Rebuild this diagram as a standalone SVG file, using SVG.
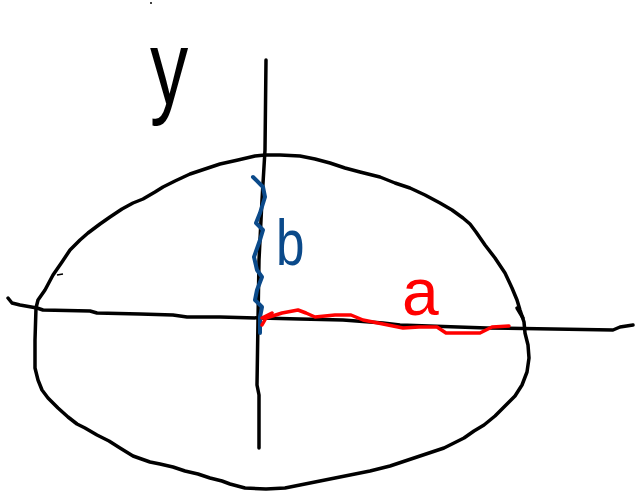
<svg xmlns="http://www.w3.org/2000/svg" width="635" height="492" viewBox="0 0 635 492">
<style>
.k{fill:none;stroke:#000;stroke-width:3.5;stroke-linecap:round;stroke-linejoin:round}
.bl{fill:none;stroke:#0b4a8a;stroke-width:4;stroke-linecap:round;stroke-linejoin:round}
.rd{fill:none;stroke:#ff0000;stroke-width:3.5;stroke-linecap:round;stroke-linejoin:round}
.t{font-family:"Liberation Sans",Arial,sans-serif}
</style>
<rect width="635" height="492" fill="#fff"/>
<g id="ellipse">
<path class="k" d="M36,308 L38,300 L45,290 L53,275 L62,262 L70,250 L80,240 L88,233 L100,224 L110,217 L122,209 L133,203 L143,199 L155,192 L163,187 L175,181 L190,174 L205,169 L220,164 L238,160 L255,156 L265,155 L280,155 L300,156 L315,159 L330,163 L345,168 L360,172 L380,177 L395,183 L410,188 L425,195 L440,203 L452,210 L463,218 L470,224 L476,232 L485,245 L495,258 L505,273 L512,288 L517,300 L520,310 L524,322 L525,333 L528,345 L529,358 L527,372 L522,385 L515,396 L504,407 L495,416 L484,425 L474,431 L464,438 L454,443 L444,448 L432,452 L420,456 L405,461 L390,466 L370,471 L355,474 L335,478 L320,481 L300,485 L285,488 L266,489 L245,488 L230,484 L222,481 L210,478 L198,474 L185,471 L173,467 L160,464 L150,462 L133,456 L120,448 L109,441 L97,435 L85,428 L77,424 L68,417 L58,408 L48,398 L42,390 L38,380 L35,368 L35,340 Z"/>
<path class="k" d="M517,308 L523,318"/>
<path d="M57,275 L63,274" stroke="#000" stroke-width="1.5" fill="none"/>
</g>
<g id="axes">
<path class="k" d="M8,298 L12,303 L20,305 L37,308 L43,310 L90,311 L97,313 L140,314 L173,315 L187,317 L220,317 L260,318 L300,319 L343,320 L383,323 L400,325 L487,328 L613,330 L620,327 L633,325"/>
<path class="k" d="M266,60 L265,150 L262,200 L259,260 L258,320 L257,385 L259,395 L259,448"/>
</g>
<g id="b-line">
<path class="bl" d="M253,177 L263,187 L265,197 L260,213 L256,223 L263,230 L260,240 L254,257 L257,270 L262,277 L257,290 L255,300 L262,307 L260,317 L260,333"/>
<text class="t" x="276" y="265" font-size="64" fill="#0b4a8a" transform="translate(276,0) scale(0.8,1) translate(-276,0)">b</text>
</g>
<g id="a-line">
<path class="rd" d="M262,325 L266,318 L282,313 L298,310 L306,313 L315,317 L335,315 L351,315 L363,320 L383,324 L403,328 L419,327 L437,327 L446,333 L480,333 L492,327 L509,326"/>
<path class="rd" d="M262,318 L272,313" stroke-width="1.5"/>
<text class="t" x="402" y="315" font-size="66" fill="#ff0000">a</text>
</g>
<g id="y-label">
<text class="t" x="150" y="104" font-size="85" fill="#000" transform="translate(150,104) scale(0.9,1.25) translate(-150,-104)">y</text>
<circle cx="151" cy="3" r="1" fill="#000"/>
</g>
</svg>
